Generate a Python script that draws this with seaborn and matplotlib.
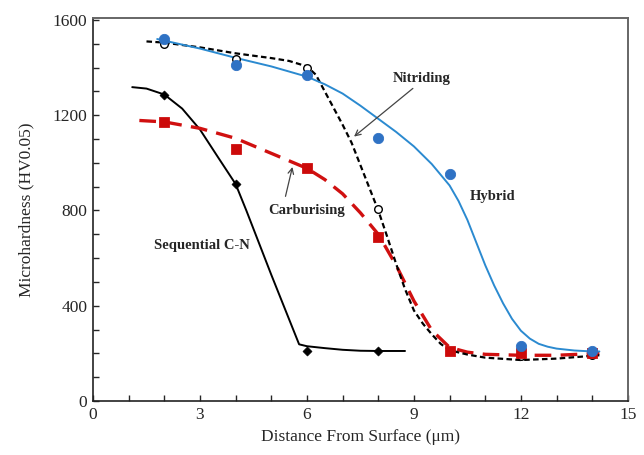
import pandas as pd
import numpy as np
import matplotlib
matplotlib.use("Agg")
import matplotlib.pyplot as plt
from matplotlib.ticker import MultipleLocator
import seaborn as sns

sns.set_style("ticks")
plt.rcParams['font.family'] = ['Liberation Serif', 'DejaVu Serif']

#%% Measured points
depth = [2, 4, 6, 8, 10, 12, 14]
hybrid = [1520, 1410, 1370, 1105, 955, 232, 210]
nitriding = [1500, 1435, 1400, 805, 210, 190, 195]
carburising = [1170, 1060, 980, 690, 210, 200, 200]
seq_depth = [2, 4, 6, 8]
sequential = [1285, 910, 210, 210]

#%% Fitted curves
hyb_x = [1.8, 3, 4, 5, 6, 6.5, 7, 7.5, 8, 8.5, 9, 9.5, 10, 10.25, 10.5, 10.75, 11, 11.25, 11.5, 11.75, 12, 12.25, 12.5, 12.75, 13, 13.5, 14, 14.2]
hyb_y = [1520, 1480, 1441, 1405, 1362, 1330, 1291, 1240, 1185, 1130, 1069, 995, 905, 840, 760, 665, 570, 485, 410, 345, 295, 262, 240, 228, 220, 212, 208, 208]

nit_x = [1.5, 2, 3, 4, 5, 5.5, 6, 6.25, 6.5, 6.75, 7, 7.25, 7.5, 7.75, 8, 8.25, 8.5, 8.75, 9, 9.25, 9.5, 9.75, 10, 10.5, 11, 12, 13, 14.2]
nit_y = [1510, 1505, 1485, 1460, 1440, 1428, 1405, 1370, 1300, 1230, 1160, 1085, 990, 895, 800, 690, 576, 470, 380, 325, 280, 240, 213, 195, 182, 172, 178, 192]

carb_x = [1.3, 2, 3, 4, 5, 6, 6.5, 7, 7.5, 8, 8.5, 9, 9.5, 10, 10.5, 11, 12, 13, 14.2]
carb_y = [1178, 1172, 1145, 1103, 1040, 977, 930, 870, 790, 700, 570, 420, 297, 225, 205, 196, 192, 192, 200]

seq_x = [1.1, 1.5, 2, 2.5, 3, 3.5, 4, 4.3, 5, 5.78, 6, 6.5, 7, 7.5, 8, 8.75]
seq_y = [1318, 1312, 1287, 1228, 1140, 1025, 911, 800, 530, 238, 230, 222, 215, 211, 210, 210]

#%% Plot
fig = plt.figure(figsize = (6.44, 4.55), dpi = 100)
ax = fig.add_axes([0.1444, 0.1187, 0.8306, 0.8426])

sns.lineplot(x = seq_x, y = seq_y, ax = ax, color = "black", lw = 1.4, sort = False)
sns.lineplot(x = carb_x, y = carb_y, ax = ax, color = "#d01010", lw = 2.4,
             sort = False).lines[-1].set_dashes([5, 2.8])
sns.lineplot(x = nit_x, y = nit_y, ax = ax, color = "black", lw = 1.6,
             sort = False).lines[-1].set_dashes([2.5, 1.5])
sns.lineplot(x = hyb_x, y = hyb_y, ax = ax, color = "#2b8ad0", lw = 1.4, sort = False)

sns.scatterplot(x = seq_depth, y = sequential, ax = ax, marker = "D", s = 22,
                color = "black", edgecolor = "black", zorder = 5)
sns.scatterplot(x = depth, y = nitriding, ax = ax, marker = "o", s = 30,
                facecolor = "white", edgecolor = "black", linewidth = 1.0, zorder = 5)
sns.scatterplot(x = depth, y = carburising, ax = ax, marker = "s", s = 50,
                color = "#cc0a0a", edgecolor = "#cc0a0a", zorder = 6)
sns.scatterplot(x = depth, y = hybrid, ax = ax, marker = "o", s = 55,
                color = "#2f72c4", edgecolor = "#2f72c4", zorder = 7)

#%% Labels and arrows
ax.text(9.22, 1353, "Nitriding", fontsize = 10.5, fontweight = "bold", ha = "center", va = "center")
ax.text(11.2, 860, "Hybrid", fontsize = 10.5, fontweight = "bold", ha = "center", va = "center")
ax.text(6.0, 798, "Carburising", fontsize = 10.5, fontweight = "bold", ha = "center", va = "center")
ax.text(3.06, 652, "Sequential C-N", fontsize = 10.5, fontweight = "bold", ha = "center", va = "center")

ax.annotate("", xy = (7.26, 1103), xytext = (9.03, 1320),
            arrowprops = dict(arrowstyle = "->", color = "#444444", lw = 0.9))
ax.annotate("", xy = (5.61, 994), xytext = (5.38, 848),
            arrowprops = dict(arrowstyle = "->", color = "#444444", lw = 0.9))

#%% Axes
ax.set_xlim(0, 15)
ax.set_ylim(0, 1610)
ax.xaxis.set_major_locator(MultipleLocator(3))
ax.xaxis.set_minor_locator(MultipleLocator(1))
ax.yaxis.set_major_locator(MultipleLocator(400))
ax.yaxis.set_minor_locator(MultipleLocator(100))
ax.tick_params(which = "both", direction = "in", length = 4, width = 1, labelsize = 12.5)
ax.tick_params(which = "major", pad = 4)
ax.set_xticks([0, 3, 6, 9, 12, 15])
ax.set_yticks([0, 400, 800, 1200, 1600])

for side in ["left", "bottom"]:
    ax.spines[side].set_color("#222222")
    ax.spines[side].set_linewidth(1.2)
for side in ["top", "right"]:
    ax.spines[side].set_visible(True)
    ax.spines[side].set_color("#666666")
    ax.spines[side].set_linewidth(1.4)

ax.set_xlabel("Distance From Surface (\u03bcm)", fontsize = 12.5, labelpad = 5)
ax.set_ylabel("Microhardness (HV0.05)", fontsize = 12.5, labelpad = 13)

plt.savefig("out.png", dpi = 100)
